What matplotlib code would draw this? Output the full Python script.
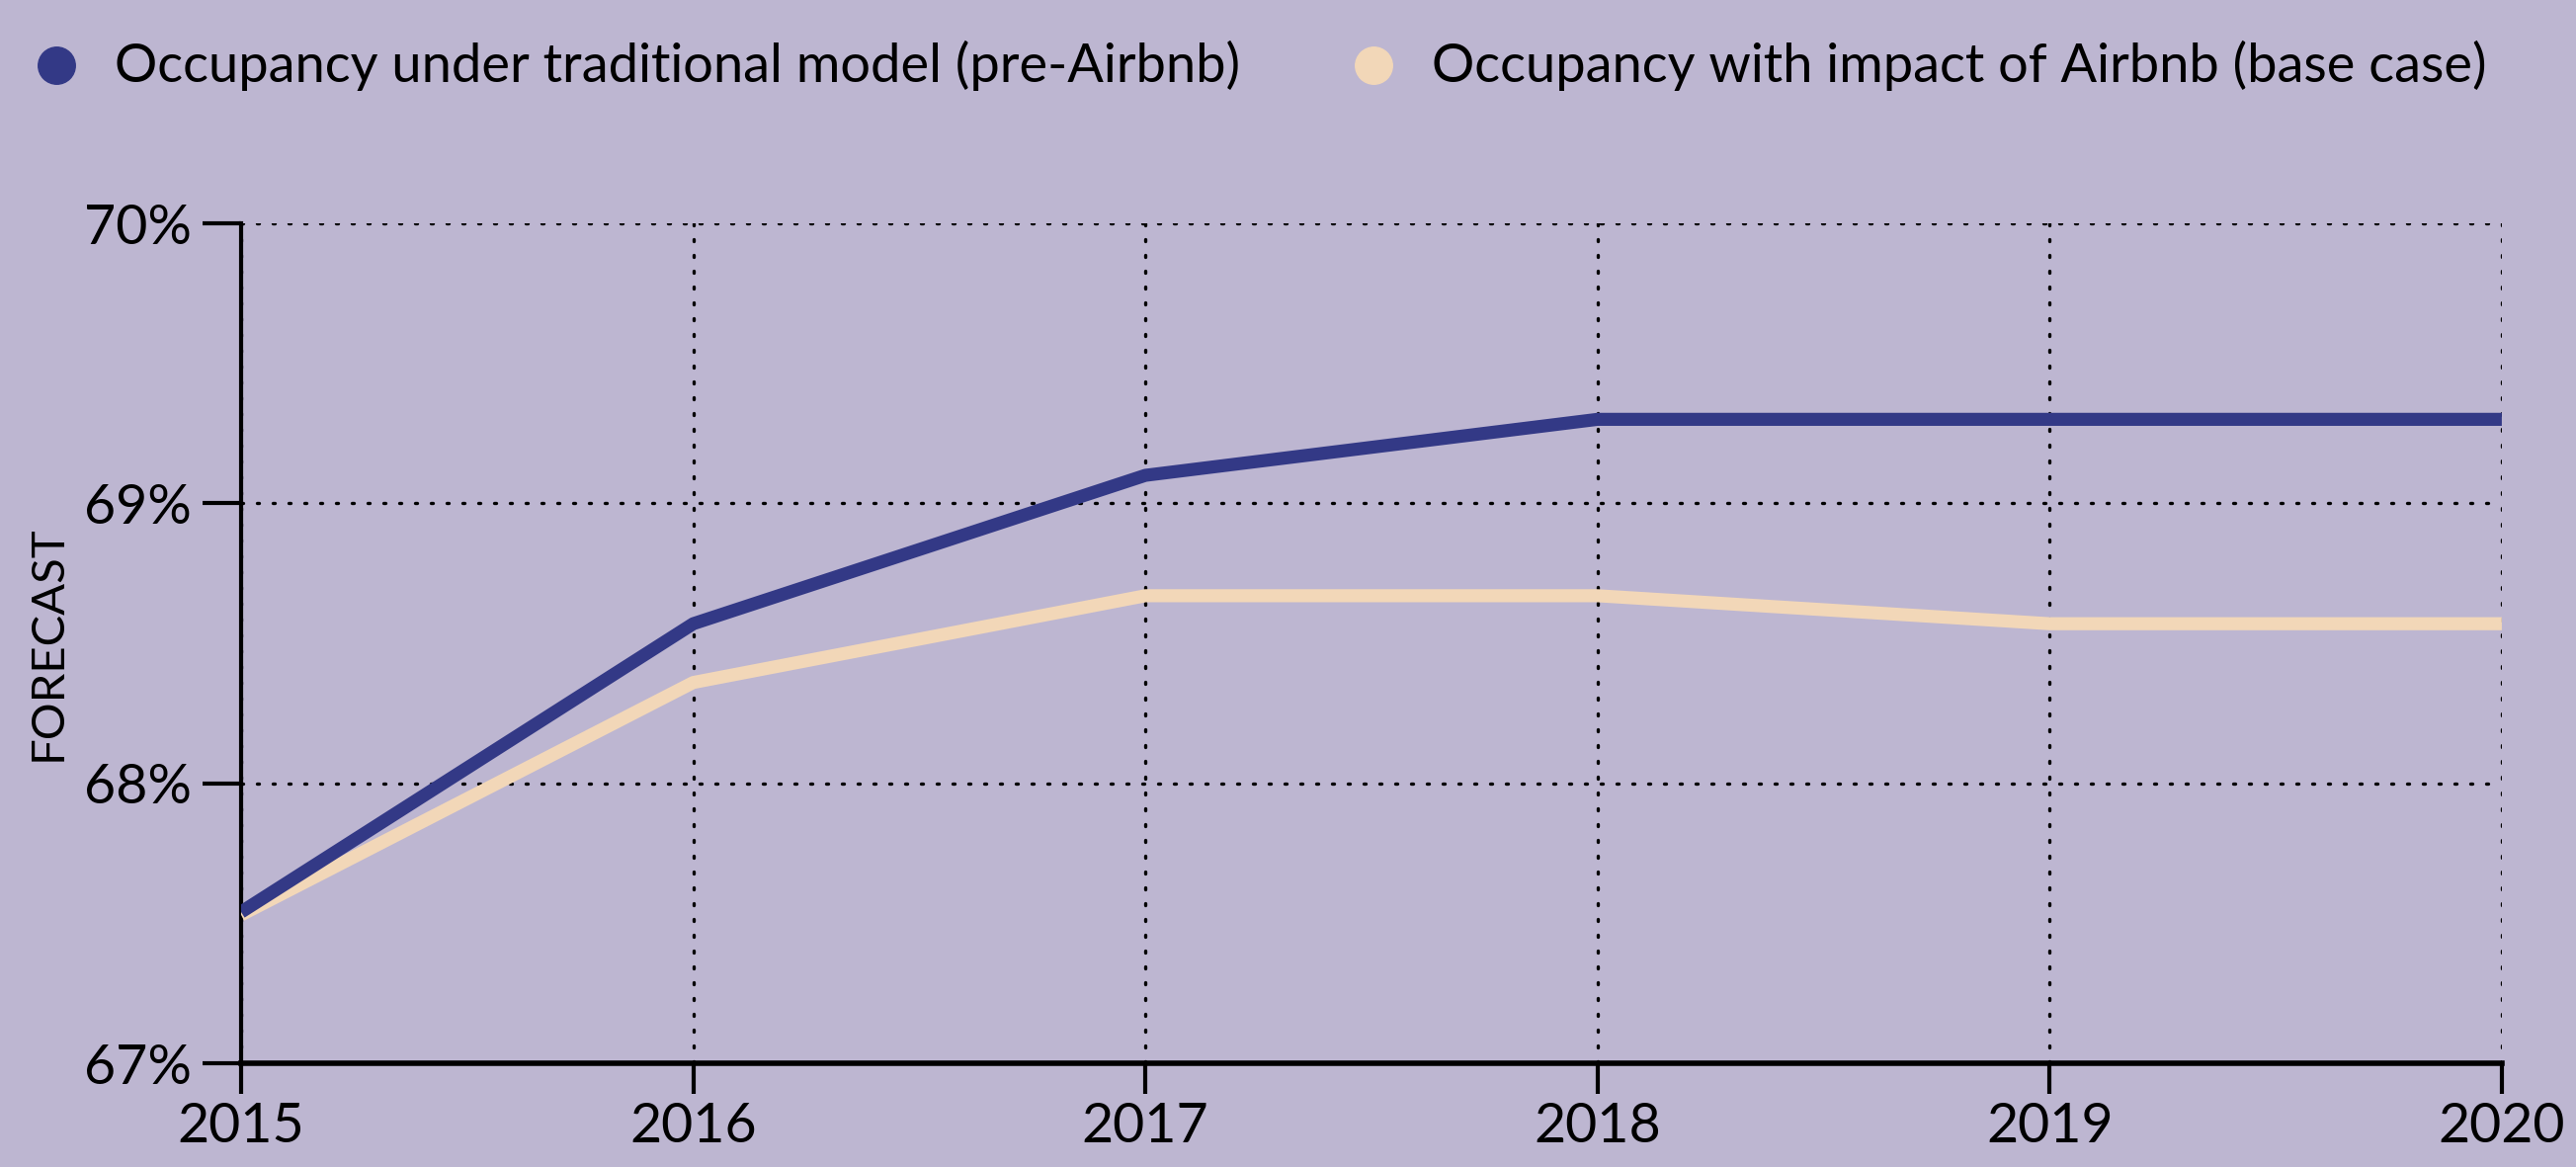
import matplotlib
matplotlib.use('Agg')
import matplotlib.pyplot as plt
from matplotlib.lines import Line2D
from matplotlib.ticker import FuncFormatter

plt.rcParams['font.family'] = ['Lato', 'DejaVu Sans']

# data
years = [2015, 2016, 2017, 2018, 2019, 2020]
traditional = [67.54, 68.57, 69.10, 69.30, 69.30, 69.30]
with_airbnb = [67.53, 68.36, 68.67, 68.67, 68.57, 68.57]
series_labels = ['Occupancy under traditional model (pre-Airbnb)',
                 'Occupancy with impact of Airbnb (base case)']
y_ticks = [67, 68, 69, 70]

bg = '#bdb6d1'
blue = '#333986'
beige = '#f2d7b8'

fig = plt.figure(figsize=(26.07, 11.81), dpi=100, facecolor=bg)
ax = fig.add_axes([0.0936, 0.0889, 0.8776, 0.7197])
ax.set_facecolor(bg)

ax.plot(years, with_airbnb, color=beige, lw=9.5, solid_capstyle='butt', zorder=3)
ax.plot(years, traditional, color=blue, lw=9.5, solid_capstyle='butt', zorder=4)

ax.set_xlim(years[0], years[-1])
ax.set_ylim(y_ticks[0], y_ticks[-1])
ax.set_xticks(years)
ax.set_yticks(y_ticks)
ax.yaxis.set_major_formatter(FuncFormatter(lambda v, p: '%d%%' % v))

ax.grid(True, color='black', linestyle=(0, (0.6, 4.2)), lw=2.4, dash_capstyle='round')
ax.set_axisbelow(True)
for s in ['top', 'right']:
    ax.spines[s].set_visible(False)
ax.spines['left'].set_linewidth(3)
ax.spines['bottom'].set_linewidth(4)
ax.tick_params(axis='x', length=22, width=3, labelsize=40, pad=6)
ax.tick_params(axis='y', length=28, width=3, labelsize=40, pad=8)

fig.text(0.0187, 0.449, 'FORECAST', rotation=90, fontsize=34, va='center', ha='center')

# legend drawn by hand
colors = [blue, beige]
marker_x = [0.0219, 0.5332]
for mx, c, lab in zip(marker_x, colors, series_labels):
    fig.add_artist(Line2D([mx], [0.944], marker='o', markersize=27, color=c,
                          linestyle='none', transform=fig.transFigure))
    fig.text(mx + 0.0226, 0.944, lab, fontsize=39, va='center', ha='left')

fig.savefig('out.png', dpi=100, facecolor=bg)
